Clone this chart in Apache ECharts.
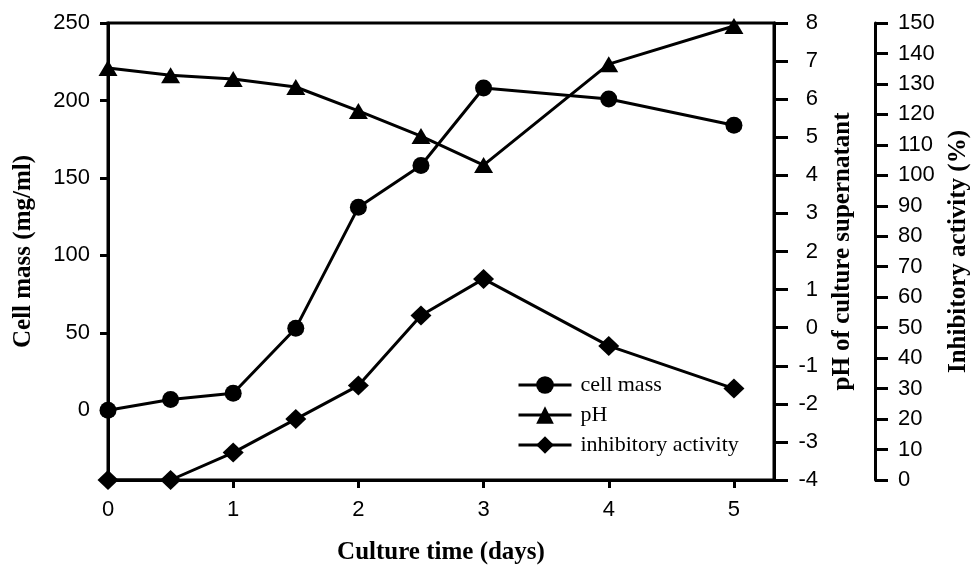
<!DOCTYPE html>
<html>
<head>
<meta charset="utf-8">
<script src="https://cdn.jsdelivr.net/npm/echarts@6/dist/echarts.min.js"></script>
<style>html,body{margin:0;padding:0;background:#fff;}#c{width:972px;height:567px;}</style>
</head>
<body>
<div id="c"></div>
<script>
const time = [0, 0.5, 1, 1.5, 2, 2.5, 3, 4, 5];
const cellMass = [0, 7, 11, 53, 131, 158, 208, 201, 184];
const pH = [6.82, 6.63, 6.53, 6.32, 5.69, 5.03, 4.27, 6.92, 7.92];
const inhibitory = [0, 0, 9, 20, 31, 54, 66, 44, 30];
const xTicks = [0, 1, 2, 3, 4, 5];
const cellTicks = [0, 50, 100, 150, 200, 250];

const pair = (vals) => time.map((t, i) => [t, vals[i]]);
const SANS = 'Liberation Sans, Arial, sans-serif';
const SERIF = 'Liberation Serif, Times New Roman, serif';
const lbl = { color: '#000', fontFamily: SANS, fontSize: 22 };
const nameStyle = { color: '#000', fontFamily: SERIF, fontWeight: 'bold', fontSize: 25 };
const line = { lineStyle: { color: '#000', width: 3 } };

const chart = echarts.init(document.getElementById('c'));
chart.setOption({
  animation: false,
  backgroundColor: '#fff',
  grid: { left: 108, right: 198, top: 23, bottom: 87, show: true, borderColor: '#000', borderWidth: 3, outerBoundsMode: 'none', containLabel: false },
  legend: {
    orient: 'vertical', left: 517, top: 374, padding: 0,
    itemWidth: 53, itemHeight: 22, itemGap: 8,
    lineStyle: { color: '#000', width: 3 },
    textStyle: { color: '#000', fontFamily: SERIF, fontSize: 22, padding: [0, 0, 0, 4] },
    data: ['cell mass', 'pH', 'inhibitory activity']
  },
  xAxis: {
    type: 'value', min: 0, max: 5.32,
    name: 'Culture time (days)', nameLocation: 'middle', nameGap: 60, nameTextStyle: nameStyle,
    axisLine: { onZero: false, lineStyle: { color: '#000', width: 3 } }, splitLine: { show: false },
    axisTick: { customValues: xTicks, length: 8, lineStyle: { color: '#000', width: 3 } },
    axisLabel: Object.assign({ customValues: xTicks, margin: 19 }, lbl)
  },
  yAxis: [
    {
      type: 'value', min: -45, max: 250, position: 'left',
      name: 'Cell mass (mg/ml)', nameLocation: 'middle', nameGap: 72, nameTextStyle: nameStyle,
      axisLine: { show: true, onZero: false, lineStyle: { color: '#000', width: 3 } }, splitLine: { show: false },
      axisTick: { show: true, customValues: cellTicks, length: 8, lineStyle: { color: '#000', width: 3 } },
      axisLabel: Object.assign({ customValues: cellTicks, margin: 18 }, lbl)
    },
    {
      type: 'value', min: -4, max: 8, interval: 1, position: 'right',
      name: 'pH of culture supernatant', nameLocation: 'middle', nameGap: 56, nameTextStyle: nameStyle,
      axisLine: { show: true, onZero: false, lineStyle: { color: '#000', width: 3 } }, splitLine: { show: false },
      axisTick: { show: true, length: 14, lineStyle: { color: '#000', width: 3 } },
      axisLabel: Object.assign({ margin: 44, align: 'right' }, lbl)
    },
    {
      type: 'value', min: 0, max: 150, interval: 10, position: 'right', offset: 101,
      name: 'Inhibitory activity (%)', nameLocation: 'middle', nameGap: 70, nameTextStyle: nameStyle,
      axisLine: { show: true, onZero: false, lineStyle: { color: '#000', width: 3 } }, splitLine: { show: false },
      axisTick: { show: true, length: 13, lineStyle: { color: '#000', width: 3 } },
      axisLabel: Object.assign({ margin: 23 }, lbl)
    }
  ],
  series: [
    {
      name: 'cell mass', type: 'line', yAxisIndex: 0, data: pair(cellMass), clip: false,
      symbol: 'circle', symbolSize: 17, itemStyle: { color: '#000' }, lineStyle: { color: '#000', width: 3 }
    },
    {
      name: 'pH', type: 'line', yAxisIndex: 1, data: pair(pH), clip: false,
      symbol: 'triangle', symbolSize: [19, 16], itemStyle: { color: '#000' }, lineStyle: { color: '#000', width: 3 }
    },
    {
      name: 'inhibitory activity', type: 'line', yAxisIndex: 2, data: pair(inhibitory), clip: false,
      symbol: 'diamond', symbolSize: [21, 20], itemStyle: { color: '#000' }, lineStyle: { color: '#000', width: 3 }
    }
  ]
});
</script>
</body>
</html>
